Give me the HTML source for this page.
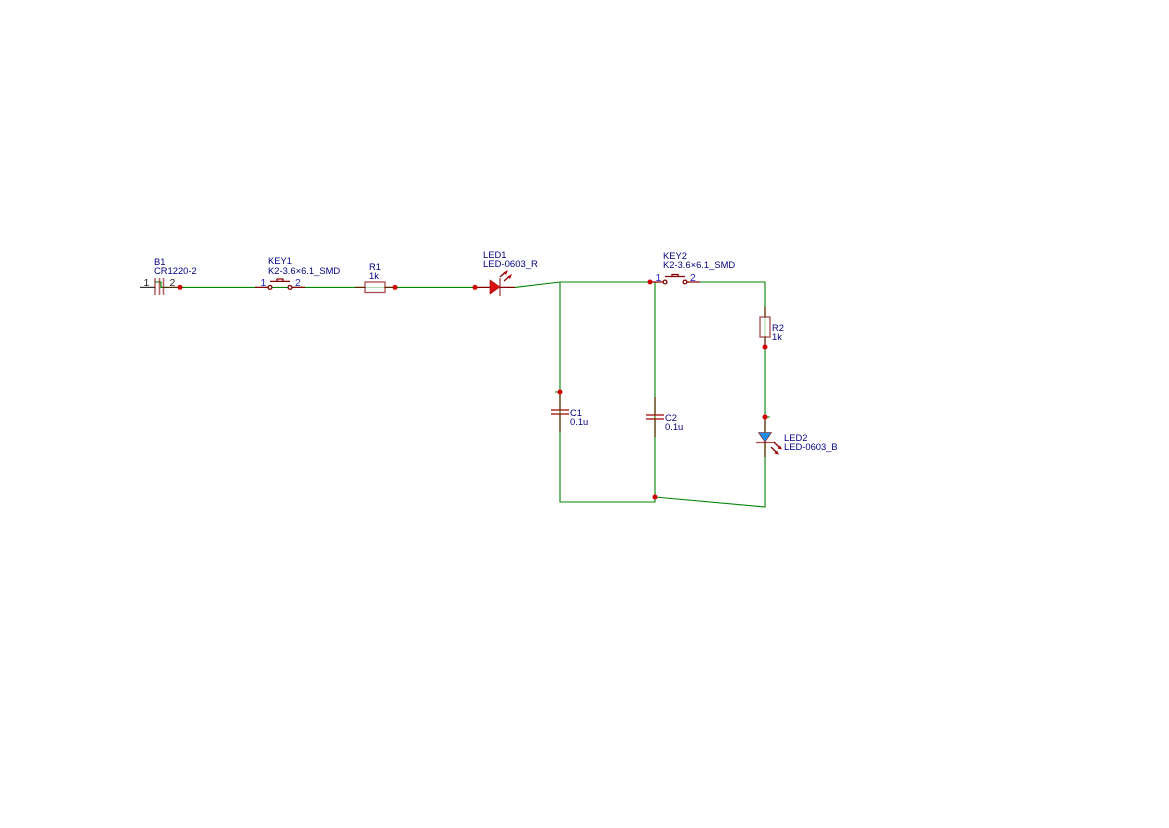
<!DOCTYPE html>
<html>
<head>
<meta charset="utf-8">
<style>
html,body{margin:0;padding:0;background:#fff;width:1169px;height:828px;overflow:hidden}
svg{display:block}
text{font-family:"Liberation Sans",sans-serif;font-size:9.4px;fill:#000084}
.p{fill:#2222cc;font-size:10.5px}
.w{stroke:#008400;stroke-width:1.100;fill:none}
.s{stroke:#840000;stroke-width:1.300;fill:none}
.d{fill:#d00000;stroke:none}
</style>
</head>
<body>
<svg width="1169" height="828" viewBox="0 0 1169 828" xmlns="http://www.w3.org/2000/svg">
<rect width="1169" height="828" fill="#fff"/>
<!-- wires -->
<g class="w">
<path d="M155 282H161V287.400H475"/>
<path d="M515 287.400L560 282H650"/>
<path d="M700 282H765V507L655 497"/>
<path d="M560 282V502H655V282"/>
<path d="M555 392H560M765 417H770"/>
</g>
<!-- battery -->
<path d="M140 287.400H155" stroke="#333" stroke-width="1.200" fill="none"/>
<g class="s" opacity=".6">
<path d="M155 278V295M159.500 278V295M163.500 278V295" stroke-width="1.600"/>
<path d="M164 287.400H180"/>
</g>
<!-- KEY1 -->
<g class="s">
<path d="M255 287.400H268M292 287.400H305"/>
<circle cx="270" cy="287.400" r="1.900" fill="#fff"/>
<circle cx="290" cy="287.400" r="1.900" fill="#fff"/>
<path d="M270 281.400H290M277 281.400V279H283V281.400"/>
</g>
<!-- R1 -->
<g class="s">
<path d="M355 287.400H365M385 287.400H395" opacity=".7"/>
<rect x="365" y="282" width="20" height="10.500" fill="#fff" opacity=".7"/>
</g>
<!-- LED1 -->
<path d="M490 280V294L500 287Z" fill="#d81010" stroke="#a00000" stroke-width=".6"/>
<g class="s">
<path d="M475 287.400H490M500 287.400H515"/>
<path d="M500 278V296" opacity=".55" stroke-width="1.800"/>
<path d="M500 277L505.500 272M504 281L509.500 276"/>
</g>
<path d="M508 270L503.500 272.500L506 275ZM512 274L507.500 276.500L510 279Z" fill="#b00000"/>
<!-- KEY2 -->
<g class="s">
<path d="M650 282H663M687 282H700"/>
<circle cx="665" cy="282" r="1.900" fill="#fff"/>
<circle cx="685" cy="282" r="1.900" fill="#fff"/>
<path d="M665 276.500H685M672 276.500V274.500H678V276.500"/>
</g>
<!-- R2 -->
<g class="s" opacity=".7">
<path d="M765 307V317M765 337V347"/>
<rect x="760" y="317" width="10" height="20" fill="#fff"/>
</g>
<!-- LED2 -->
<path d="M758.500 432.500H771.500L765 442Z" fill="#1e90e6" stroke="#840000" stroke-width=".6"/>
<g class="s">
<path d="M765 417V432M765 442V457" opacity=".55" stroke-width="1.500"/>
<path d="M756 442.500H774" opacity=".7"/>
<path d="M774 442L779 447M771 447L776 452"/>
</g>
<path d="M782 449.500L777.500 448.500L780 445.500ZM779 454.500L774.500 453.500L777 450.500Z" fill="#a00000"/>
<!-- C1 -->
<g class="s">
<path d="M560 392V410M560 414V432" opacity=".55" stroke-width="1.500"/>
<path d="M551 410H569M551 414H569" stroke="#a00000"/>
</g>
<!-- C2 -->
<g class="s">
<path d="M655 397V415M655 419V437" opacity=".55" stroke-width="1.500"/>
<path d="M646 415H664M646 419H664" stroke="#a00000"/>
</g>
<!-- junctions -->
<g class="d">
<circle cx="180" cy="287.400" r="2.500"/>
<circle cx="395" cy="287.400" r="2.500"/>
<circle cx="475" cy="287.400" r="2.500"/>
<circle cx="650" cy="282" r="2.500"/>
<circle cx="765" cy="347" r="2.500"/>
<circle cx="560" cy="392" r="2.500"/>
<circle cx="765" cy="417" r="2.500"/>
<circle cx="655" cy="497" r="2.500"/>
</g>
<!-- labels -->
<text x="154" y="265">B1</text>
<text x="154" y="274">CR1220-2</text>
<text x="143.500" y="286" style="fill:#222;font-size:10.500px">1</text>
<text x="169.500" y="286" style="fill:#222;font-size:10.500px">2</text>
<text x="268" y="264">KEY1</text>
<text x="268" y="274">K2-3.6×6.1_SMD</text>
<text class="p" x="260.500" y="286">1</text>
<text class="p" x="295" y="286">2</text>
<text x="369" y="270">R1</text>
<text x="369" y="279">1k</text>
<text x="483" y="258">LED1</text>
<text x="483" y="267" style="font-size:9.500px">LED-0603_R</text>
<text x="663" y="259">KEY2</text>
<text x="663" y="268">K2-3.6×6.1_SMD</text>
<text class="p" x="655.500" y="281">1</text>
<text class="p" x="690" y="281">2</text>
<text x="772" y="331">R2</text>
<text x="772" y="340">1k</text>
<text x="570" y="416">C1</text>
<text x="570" y="425">0.1u</text>
<text x="665" y="421">C2</text>
<text x="665" y="430">0.1u</text>
<text x="784" y="441">LED2</text>
<text x="784" y="450">LED-0603_B</text>
</svg>
</body>
</html>
